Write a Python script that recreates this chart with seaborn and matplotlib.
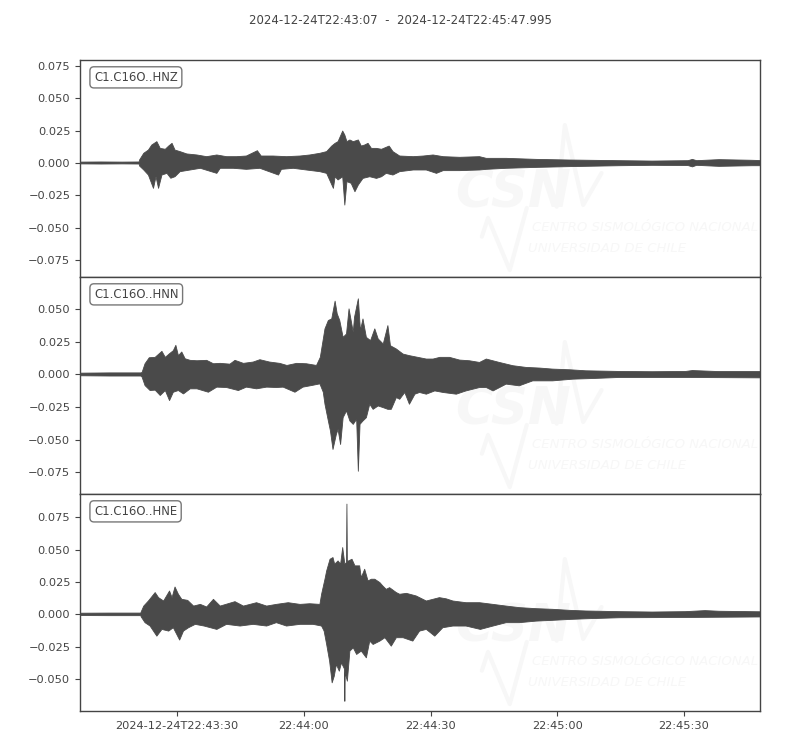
import numpy as np
import pandas as pd
import matplotlib
matplotlib.use("Agg")
import matplotlib.pyplot as plt
import matplotlib.dates as mdates
from matplotlib.ticker import MultipleLocator, FixedLocator, FixedFormatter
import seaborn as sns
from datetime import datetime

# ---------------------------------------------------------------- data
START = datetime(2024, 12, 24, 22, 43, 7)
DURATION_S = 160.995
title_text = "2024-12-24T22:43:07  -  2024-12-24T22:45:47.995"
channels = ["C1.C16O..HNZ", "C1.C16O..HNN", "C1.C16O..HNE"]

tick_seconds = [23, 53, 83, 113, 143]
tick_labels = ["2024-12-24T22:43:30", "22:44:00", "22:44:30", "22:45:00", "22:45:30"]

# envelope of each trace: seconds after START, amplitude
hnz_upper_t = [0, 5, 10, 14.0, 14.1, 15.1, 16.2, 17.0, 18.2, 19.0, 20.2, 21.0, 21.8, 22.5,
               23.7, 25.3, 27.7, 30.0, 32.4, 34.7, 37.1, 39.4, 42.0, 42.9, 45.7, 48.9, 52.1,
               54.4, 56.8, 58.4, 59.6, 60.4, 61.1, 62.2, 62.7, 63.2, 63.9, 64.7, 65.9, 66.6,
               67.4, 68.2, 69.0, 70.2, 71.4, 73.2, 74.1, 75.7, 78.9, 81.3, 83.6, 86.0, 89.9,
               94.6, 96.2, 100.9, 108.0, 115.9, 127.7, 135.5, 144.0, 145.0, 146.0, 151.3,
               159.1, 161.0]
hnz_upper = [0.0007, 0.0008, 0.0007, 0.0008, 0.0023, 0.0075, 0.0100, 0.0139, 0.0165, 0.0113,
             0.0106, 0.0131, 0.0152, 0.0100, 0.0088, 0.0070, 0.0062, 0.0049, 0.0062, 0.0049,
             0.0049, 0.0054, 0.0095, 0.0054, 0.0054, 0.0049, 0.0054, 0.0062, 0.0075, 0.0088,
             0.0131, 0.0152, 0.0165, 0.0247, 0.0216, 0.0165, 0.0178, 0.0165, 0.0178, 0.0131,
             0.0139, 0.0152, 0.0113, 0.0113, 0.0106, 0.0131, 0.0088, 0.0054, 0.0049, 0.0054,
             0.0062, 0.0049, 0.0044, 0.0049, 0.0036, 0.0036, 0.0028, 0.0023, 0.0018, 0.0015,
             0.0018, 0.0028, 0.0018, 0.0026, 0.0021, 0.0019]
hnz_lower_t = [0, 5, 10, 14.0, 14.1, 15.1, 16.2, 17.4, 18.0, 18.6, 19.4, 20.6, 21.5, 22.5,
               23.7, 26.1, 28.5, 32.4, 33.2, 36.3, 39.4, 42.6, 47.0, 47.7, 50.5, 53.6, 56.8,
               58.4, 60.0, 60.4, 61.1, 62.2, 62.7, 63.2, 64.2, 65.1, 65.9, 67.0, 68.6, 70.2,
               71.4, 72.5, 74.1, 75.7, 78.9, 82.0, 84.4, 86.0, 89.9, 94.6, 96.2, 100.9, 108.0,
               115.9, 127.7, 135.5, 144.0, 145.0, 146.0, 151.3, 159.1, 161.0]
hnz_lower = [-0.0007, -0.0008, -0.0007, -0.0008, -0.0023, -0.0054, -0.0093, -0.0196, -0.0106,
             -0.0196, -0.0093, -0.0080, -0.0118, -0.0106, -0.0067, -0.0054, -0.0041, -0.0080,
             -0.0041, -0.0041, -0.0049, -0.0041, -0.0093, -0.0049, -0.0041, -0.0054, -0.0067,
             -0.0080, -0.0196, -0.0106, -0.0131, -0.0106, -0.0325, -0.0144, -0.0157, -0.0222,
             -0.0170, -0.0119, -0.0106, -0.0119, -0.0106, -0.0080, -0.0093, -0.0067, -0.0054,
             -0.0054, -0.0080, -0.0059, -0.0059, -0.0054, -0.0049, -0.0041, -0.0034, -0.0028,
             -0.0021, -0.0018, -0.0020, -0.0030, -0.0018, -0.0026, -0.0021, -0.0021]

hnn_upper_t = [0, 7, 14.4, 14.7, 15.4, 16.4, 17.8, 19.4, 20.2, 21.2, 22.1, 22.7, 23.3, 24.1,
               24.9, 26.1, 27.7, 30.0, 31.6, 33.2, 35.5, 36.7, 38.7, 41.0, 42.6, 44.9, 47.3,
               49.0, 51.3, 53.6, 56.0, 56.9, 58.0, 58.8, 59.6, 60.4, 60.9, 61.5, 62.3, 63.1,
               63.7, 64.7, 65.0, 65.9, 66.4, 67.0, 67.8, 68.8, 69.8, 70.6, 71.8, 72.9, 73.5,
               74.9, 76.5, 78.0, 80.0, 82.0, 83.6, 85.2, 87.5, 89.9, 92.2, 94.6, 96.2, 99.3,
               102.5, 105.6, 108.8, 111.9, 115.9, 119.8, 127.7, 135.5, 143.4, 145.0, 151.3,
               161.0]
hnn_upper = [0.0010, 0.0012, 0.0012, 0.0015, 0.0082, 0.0128, 0.0131, 0.0177, 0.0131, 0.0159,
             0.0182, 0.0223, 0.0144, 0.0172, 0.0120, 0.0108, 0.0105, 0.0108, 0.0082, 0.0085,
             0.0079, 0.0108, 0.0085, 0.0095, 0.0113, 0.0095, 0.0085, 0.0069, 0.0085, 0.0082,
             0.0069, 0.0131, 0.0349, 0.0413, 0.0425, 0.0561, 0.0464, 0.0413, 0.0284, 0.0310,
             0.0502, 0.0323, 0.0438, 0.0579, 0.0336, 0.0425, 0.0284, 0.0259, 0.0349, 0.0272,
             0.0233, 0.0374, 0.0220, 0.0195, 0.0156, 0.0144, 0.0131, 0.0118, 0.0118, 0.0131,
             0.0131, 0.0110, 0.0105, 0.0092, 0.0118, 0.0092, 0.0067, 0.0054, 0.0049, 0.0041,
             0.0036, 0.0028, 0.0023, 0.0021, 0.0023, 0.0030, 0.0022, 0.0022]
hnn_lower_t = [0, 7, 14.4, 14.7, 15.4, 16.6, 17.8, 19.0, 20.2, 21.2, 22.1, 23.3, 24.5, 26.1,
               27.7, 30.4, 32.4, 34.7, 37.5, 39.4, 41.8, 44.2, 46.5, 48.1, 50.9, 52.8, 54.8,
               56.8, 57.6, 58.0, 58.8, 59.3, 59.9, 60.7, 61.1, 61.7, 62.3, 63.1, 63.9, 64.7,
               65.5, 65.9, 66.3, 67.0, 67.8, 68.6, 69.4, 70.6, 71.8, 72.9, 73.7, 74.9, 75.7,
               76.9, 78.0, 79.3, 80.4, 82.0, 84.0, 86.0, 89.1, 91.4, 94.6, 96.2, 97.8, 100.9,
               104.0, 107.2, 111.9, 116.7, 121.4, 127.7, 143.4, 161.0]
hnn_lower = [-0.0010, -0.0012, -0.0012, -0.0020, -0.0085, -0.0123, -0.0120, -0.0161, -0.0123,
             -0.0200, -0.0136, -0.0123, -0.0149, -0.0110, -0.0110, -0.0136, -0.0097, -0.0100,
             -0.0123, -0.0097, -0.0110, -0.0097, -0.0100, -0.0097, -0.0136, -0.0097, -0.0085,
             -0.0072, -0.0136, -0.0228, -0.0356, -0.0433, -0.0574, -0.0459, -0.0420, -0.0536,
             -0.0331, -0.0279, -0.0356, -0.0382, -0.0343, -0.0741, -0.0382, -0.0356, -0.0331,
             -0.0228, -0.0267, -0.0241, -0.0254, -0.0267, -0.0267, -0.0177, -0.0190, -0.0138,
             -0.0228, -0.0151, -0.0138, -0.0151, -0.0126, -0.0138, -0.0151, -0.0126, -0.0100,
             -0.0100, -0.0126, -0.0074, -0.0087, -0.0049, -0.0049, -0.0036, -0.0031, -0.0023,
             -0.0023, -0.0026]

hne_upper_t = [0, 7, 14.4, 14.5, 15.1, 16.2, 17.8, 18.6, 19.8, 21.2, 21.8, 22.5, 23.3, 24.1,
               25.5, 26.9, 28.5, 30.0, 31.6, 33.2, 36.7, 38.7, 41.8, 44.2, 46.5, 49.3, 52.1,
               54.4, 56.8, 57.2, 58.0, 58.4, 59.2, 59.9, 60.3, 61.1, 61.7, 62.2, 62.7, 63.1,
               63.2, 63.3, 63.6, 64.4, 65.1, 66.2, 66.6, 67.4, 68.2, 69.0, 69.8, 71.0, 71.7,
               72.5, 73.3, 74.9, 75.7, 77.3, 79.6, 82.0, 85.1, 86.7, 88.3, 91.4, 94.6, 97.8,
               100.9, 104.0, 108.0, 111.9, 115.9, 119.8, 127.7, 135.5, 143.4, 148.0, 151.3,
               161.0]
hne_upper = [0.0009, 0.0010, 0.0010, 0.0020, 0.0064, 0.0103, 0.0168, 0.0129, 0.0103, 0.0180,
             0.0129, 0.0211, 0.0155, 0.0116, 0.0108, 0.0064, 0.0077, 0.0057, 0.0116, 0.0064,
             0.0098, 0.0064, 0.0090, 0.0064, 0.0077, 0.0090, 0.0077, 0.0082, 0.0077, 0.0155,
             0.0271, 0.0335, 0.0425, 0.0438, 0.0387, 0.0412, 0.0387, 0.0515, 0.0387, 0.0400,
             0.0850, 0.0410, 0.0412, 0.0425, 0.0374, 0.0374, 0.0283, 0.0348, 0.0258, 0.0271,
             0.0271, 0.0245, 0.0219, 0.0193, 0.0206, 0.0168, 0.0155, 0.0162, 0.0142, 0.0103,
             0.0129, 0.0120, 0.0103, 0.0090, 0.0090, 0.0077, 0.0064, 0.0052, 0.0044, 0.0039,
             0.0031, 0.0026, 0.0021, 0.0018, 0.0021, 0.0029, 0.0024, 0.0020]
hne_lower_t = [0, 7, 14.4, 14.5, 15.4, 16.6, 18.2, 19.4, 21.0, 22.1, 23.6, 24.5, 25.7, 27.3,
               29.4, 32.4, 34.7, 37.9, 41.0, 44.2, 46.5, 48.9, 52.1, 55.2, 57.2, 57.8, 58.4,
               59.1, 59.7, 60.2, 60.7, 61.4, 61.9, 62.6, 62.7, 62.8, 63.3, 63.9, 64.7, 65.5,
               66.6, 67.8, 68.6, 69.4, 71.0, 72.2, 73.7, 74.9, 76.5, 78.8, 80.4, 82.0, 84.0,
               85.9, 88.3, 91.4, 94.8, 97.8, 100.9, 104.0, 108.0, 111.9, 115.9, 119.8, 127.7,
               143.4, 161.0]
hne_lower = [-0.0009, -0.0010, -0.0010, -0.0020, -0.0064, -0.0090, -0.0168, -0.0116, -0.0129,
             -0.0103, -0.0198, -0.0129, -0.0103, -0.0077, -0.0090, -0.0116, -0.0077, -0.0090,
             -0.0077, -0.0090, -0.0064, -0.0090, -0.0077, -0.0077, -0.0090, -0.0129, -0.0232,
             -0.0361, -0.0528, -0.0477, -0.0387, -0.0438, -0.0374, -0.0420, -0.0670, -0.0450,
             -0.0515, -0.0283, -0.0258, -0.0309, -0.0283, -0.0335, -0.0206, -0.0232, -0.0206,
             -0.0180, -0.0245, -0.0180, -0.0180, -0.0206, -0.0129, -0.0116, -0.0168, -0.0103,
             -0.0090, -0.0090, -0.0116, -0.0090, -0.0064, -0.0064, -0.0052, -0.0046, -0.0039,
             -0.0034, -0.0026, -0.0024, -0.0020]

y_limits = [(-0.0881, 0.0796), (-0.0915, 0.0746), (-0.0745, 0.0928)]

traces = [
    (hnz_upper_t, hnz_upper, hnz_lower_t, hnz_lower),
    (hnn_upper_t, hnn_upper, hnn_lower_t, hnn_lower),
    (hne_upper_t, hne_upper, hne_lower_t, hne_lower),
]

# ---------------------------------------------------------------- style
WAVE = "#4a4a4a"
TEXT = "#444444"
WM = "#f7f7f7"

sns.set_theme(style="ticks")
plt.rcParams["font.family"] = ["DejaVu Sans"]
plt.rcParams.update({
    "axes.edgecolor": TEXT,
    "axes.linewidth": 1.0,
    "xtick.color": TEXT,
    "ytick.color": TEXT,
    "xtick.labelcolor": TEXT,
    "ytick.labelcolor": TEXT,
    "xtick.labelsize": 8.2,
    "ytick.labelsize": 8.2,
    "xtick.major.size": 3.5,
    "ytick.major.size": 3.5,
    "xtick.major.width": 0.8,
    "ytick.major.width": 0.8,
})

t0 = mdates.date2num(START)


def to_num(seconds):
    return t0 + np.asarray(seconds, dtype=float) / 86400.0


fig = plt.figure(figsize=(8, 7.5), dpi=100)
panel_h = 217.0 / 750.0
bottoms = [1 - 60 / 750 - panel_h, 1 - 60 / 750 - 2 * panel_h, 1 - 60 / 750 - 3 * panel_h]

for i, (name, (ut, uv, lt, lv), ylim, b) in enumerate(zip(channels, traces, y_limits, bottoms)):
    assert len(ut) == len(uv) and len(lt) == len(lv)
    ax = fig.add_axes([0.1, b, 0.85, panel_h])
    xu, xl = to_num(ut), to_num(lt)
    uv, lv = np.asarray(uv), np.asarray(lv)

    # faint logo watermark
    ax.text(0.552, 0.32, "CSN", transform=ax.transAxes, fontsize=37, fontweight="bold",
            fontstyle="italic", color=WM, zorder=0.5, ha="left", va="baseline")
    ax.text(0.665, 0.21, "CENTRO SISMOLÓGICO NACIONAL", transform=ax.transAxes, fontsize=9.5,
            fontstyle="italic", color=WM, zorder=0.5, ha="left", va="baseline")
    ax.text(0.659, 0.115, "UNIVERSIDAD DE CHILE", transform=ax.transAxes, fontsize=9.5,
            fontstyle="italic", color=WM, zorder=0.5, ha="left", va="baseline")
    ax.plot([0.591, 0.600, 0.632, 0.657], [0.186, 0.272, 0.032, 0.318],
            transform=ax.transAxes, color=WM, lw=3, zorder=0.5)
    ax.plot([0.701, 0.713, 0.740, 0.767], [0.324, 0.700, 0.332, 0.479],
            transform=ax.transAxes, color=WM, lw=3, zorder=0.5)

    # waveform envelope
    ax.fill(np.concatenate([xu, xl[::-1]]), np.concatenate([uv, lv[::-1]]),
            color=WAVE, lw=0, zorder=2)
    df = pd.DataFrame({
        "time": np.concatenate([xu, xl]),
        "amp": np.concatenate([uv, lv]),
        "side": ["upper"] * len(xu) + ["lower"] * len(xl),
    })
    sns.lineplot(data=df, x="time", y="amp", units="side", estimator=None, sort=False,
                 color=WAVE, lw=0.6, ax=ax, legend=False, zorder=3)

    ax.set_xlim(t0, t0 + DURATION_S / 86400.0)
    ax.set_ylim(*ylim)
    ax.yaxis.set_major_locator(MultipleLocator(0.025))
    ax.xaxis.set_major_locator(FixedLocator(list(to_num(tick_seconds))))
    ax.xaxis.set_major_formatter(FixedFormatter(tick_labels))
    ax.set_xlabel("")
    ax.set_ylabel("")
    for sp in ax.spines.values():
        sp.set_visible(True)
        sp.set_color(TEXT)
        sp.set_linewidth(1.0)
    if i < 2:
        ax.tick_params(axis="x", bottom=False, labelbottom=False)

    ax.text(0.0206, 0.92, name, transform=ax.transAxes, fontsize=8.4, color=TEXT,
            ha="left", va="center", zorder=5,
            bbox=dict(boxstyle="round,pad=0.35", fc="white", ec="#777777", lw=1.0))

fig.text(0.5, 1 - 20 / 750, title_text, ha="center", va="center", fontsize=8.5, color=TEXT)

fig.savefig("out.png", dpi=100)
